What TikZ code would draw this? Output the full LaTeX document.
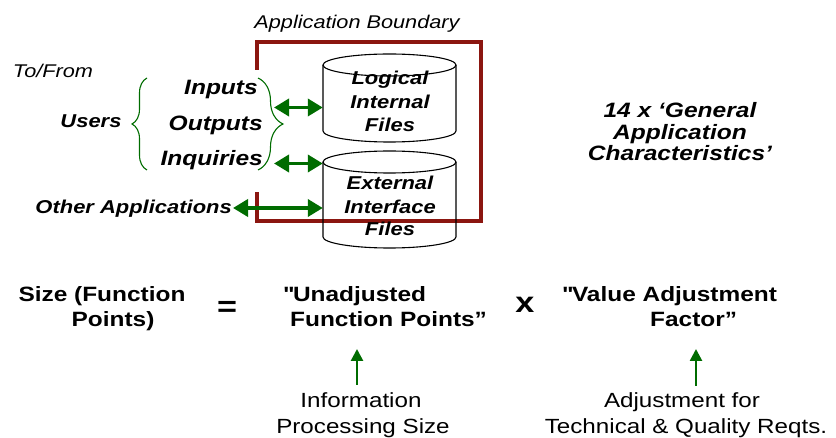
\documentclass[tikz,border=0pt]{standalone}
\usepackage{fontspec}
\setmainfont{Liberation Sans}[FakeStretch=1.18]
\usetikzlibrary{arrows.meta,decorations.pathreplacing}
\definecolor{bndred}{RGB}{139,22,16}
\definecolor{flowgreen}{RGB}{0,108,0}

\begin{document}
\begin{tikzpicture}[x=1pt,y=1pt,
  txt/.style={inner sep=0pt, anchor=base},
  labit/.style={txt, font=\fontsize{18.4}{22}\selectfont\itshape},
  bsm/.style={txt, font=\fontsize{18.6}{22}\selectfont\bfseries\itshape},
  bbig/.style={txt, font=\fontsize{20.8}{24}\selectfont\bfseries\itshape},
  eqtxt/.style={txt, font=\fontsize{20.7}{24}\selectfont\bfseries},
  optxt/.style={inner sep=0pt, font=\fontsize{29}{32}\selectfont\bfseries},
  notetxt/.style={txt, font=\fontsize{20.5}{24}\selectfont},
  boundary/.style={draw=bndred, line width=3.4pt},
  cyl/.style={draw=black, line width=1.1pt},
  cylbody/.style={draw=none, inner sep=0pt, minimum width=133pt},
  curly/.style={draw=flowgreen, line width=1.1pt, decorate},
  biarrow/.style={draw=flowgreen, line width=3.6pt,
    {Triangle[length=15pt,width=17pt]}-{Triangle[length=15pt,width=17pt]}},
  uparrow/.style={draw=flowgreen, line width=2.6pt,
    -{Triangle[length=12pt,width=12pt]}}
]
\useasboundingbox (0,0) rectangle (836,-438);

% application boundary (open on the left where the flows enter)
\node[labit] (abnd) at (357,-29) {Application Boundary};
\draw[boundary] (257,-70) -- (257,-42) -- (481,-42) -- (481,-221)
  -- (257,-221) -- (257,-192);

% data stores
\node[cylbody, minimum height=88pt] (lif) at (389.5,-98) {};
\draw[cyl] (323,-65) -- (323,-131)
  arc[start angle=180, end angle=360, x radius=66.5, y radius=11] -- (456,-65);
\draw[cyl] (389.5,-65) ellipse[x radius=66.5, y radius=11];
\node[bsm] (lif1) at (390,-85) {Logical};
\node[bsm] (lif2) at (390,-109) {Internal};
\node[bsm] (lif3) at (390,-132) {Files};

\node[cylbody, minimum height=97pt] (eif) at (389.5,-199.5) {};
\draw[cyl] (323,-162) -- (323,-237)
  arc[start angle=180, end angle=360, x radius=66.5, y radius=11] -- (456,-162);
\draw[cyl] (389.5,-162) ellipse[x radius=66.5, y radius=11];
\node[bsm] (eif1) at (390,-190) {External};
\node[bsm] (eif2) at (390,-214) {Interface};
\node[bsm] (eif3) at (390,-236) {Files};

% external parties and transaction types
\node[labit] (tofrom) at (53,-78) {To/From};
\node[bsm] (users) at (91,-128) {Users};
\node[bbig, anchor=base east] (inp) at (258,-95) {Inputs};
\node[bbig, anchor=base east] (outp) at (263,-131) {Outputs};
\node[bbig, anchor=base east] (inq) at (263,-166) {Inquiries};
\node[bsm, anchor=base east] (oapps) at (232,-214) {Other Applications};

\draw[curly, decoration={brace, amplitude=15pt}] (147,-170) -- (147,-78);
\draw[curly, decoration={brace, amplitude=25pt}] (258,-78) -- (258,-170);

% flows across the boundary
\coordinate (flowA) at (274,-107.5);
\coordinate (flowB) at (274,-163.5);
\coordinate (flowC) at (233,-208);
\draw[biarrow] (flowA) -- (flowA -| lif.west);
\draw[biarrow] (flowB) -- (flowB -| eif.west);
\draw[biarrow] (flowC) -- (flowC -| eif.west);

% adjustment factors
\node[bbig, anchor=base] (gac1) at (680,-118) {14 x ‘General};
\node[bbig, anchor=base] (gac2) at (680,-139.5) {Application};
\node[bbig, anchor=base] (gac3) at (680,-161) {Characteristics’};

% size equation
\node[eqtxt] (size1) at (102,-302) {Size (Function};
\node[eqtxt] (size2) at (113,-327) {Points)};
\node[optxt] (eq) at (227,-309) {=};
\node[eqtxt, anchor=base west] (ufp1) at (283,-302) {\textquotedbl Unadjusted};
\node[eqtxt, anchor=base west] (ufp2) at (290,-327) {Function Points”};
\node[optxt, anchor=base] (times) at (525,-313) {x};
\node[eqtxt, anchor=base west] (vaf1) at (562,-302) {\textquotedbl Value Adjustment};
\node[eqtxt, anchor=base west] (vaf2) at (650,-327) {Factor”};

% explanations
\node[notetxt] (info1) at (361,-408) {Information};
\node[notetxt] (info2) at (363,-434) {Processing Size};
\node[notetxt] (adj1) at (682,-408) {Adjustment for};
\node[notetxt] (adj2) at (686,-434) {Technical \& Quality Reqts.};

\coordinate (infoTop) at (357,-385);
\coordinate (adjTop) at (696,-386);
\draw[uparrow] (infoTop) -- (infoTop |- 0,-349);
\draw[uparrow] (adjTop) -- (adjTop |- 0,-349);
\end{tikzpicture}
\end{document}
